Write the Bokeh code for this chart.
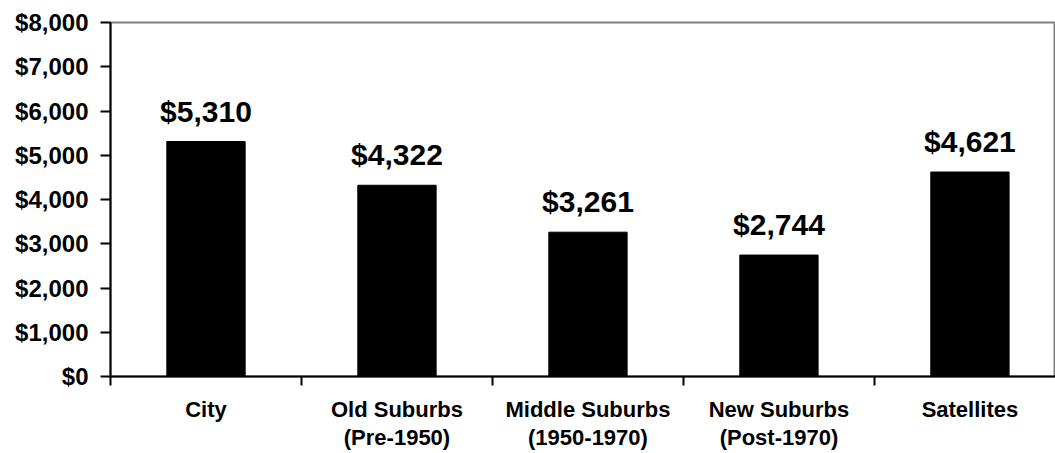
from bokeh.plotting import figure
from bokeh.models import Range1d, FixedTicker, NumeralTickFormatter, LabelSet, ColumnDataSource
from bokeh.core.properties import value
from bokeh.embed import file_html
from bokeh.resources import INLINE

categories = ["City", "Old Suburbs\n(Pre-1950)", "Middle Suburbs\n(1950-1970)",
              "New Suburbs\n(Post-1970)", "Satellites"]
values = [5310, 4322, 3261, 2744, 4621]
y_ticks = [0, 1000, 2000, 3000, 4000, 5000, 6000, 7000, 8000]

FONT = "Liberation Sans"

xs = [i + 0.5 for i in range(len(categories))]
src = ColumnDataSource(dict(x=xs, v=values, lab=[f"${v:,}" for v in values]))

p = figure(width=1055, height=453, output_backend="svg", toolbar_location=None,
           x_range=Range1d(0, 4.948), y_range=Range1d(0, 8000),
           min_border_left=110, min_border_right=0, min_border_top=22, min_border_bottom=75)
p.grid.visible = False
p.outline_line_color = "#808080"
p.outline_line_width = 2
p.background_fill_color = "white"
p.border_fill_color = "white"

p.vbar(x="x", top="v", width=0.41, source=src, fill_color="black", line_color="black")

labels = LabelSet(x="x", y="v", text="lab", source=src, text_align="center",
                  text_baseline="alphabetic", y_offset=20, text_font=value(FONT),
                  text_font_style="bold", text_font_size="30px", text_color="black")
p.add_layout(labels)

xa = p.xaxis[0]
xa.ticker = FixedTicker(ticks=xs, minor_ticks=list(range(len(categories) + 1)))
xa.major_label_overrides = {x: c for x, c in zip(xs, categories)}
xa.major_tick_line_color = None
xa.major_tick_out = 9
xa.major_tick_in = 0
xa.minor_tick_line_color = "black"
xa.minor_tick_line_width = 2
xa.minor_tick_out = 9
xa.minor_tick_in = 0
xa.axis_line_width = 2
xa.axis_line_color = "black"
xa.major_label_text_font = FONT
xa.major_label_text_font_style = "bold"
xa.major_label_text_font_size = "22px"
xa.major_label_text_color = "black"
xa.major_label_text_line_height = 1.15
xa.major_label_standoff = 11

ya = p.yaxis[0]
ya.ticker = FixedTicker(ticks=y_ticks)
ya.formatter = NumeralTickFormatter(format="$0,0")
ya.major_tick_out = 10
ya.major_tick_in = 0
ya.major_tick_line_width = 2
ya.major_tick_line_color = "black"
ya.minor_tick_line_color = None
ya.axis_line_width = 2
ya.axis_line_color = "black"
ya.major_label_text_font = FONT
ya.major_label_text_font_style = "bold"
ya.major_label_text_font_size = "24px"
ya.major_label_text_color = "black"
ya.major_label_standoff = 12

open("out.html", "w").write(file_html(p, INLINE))
